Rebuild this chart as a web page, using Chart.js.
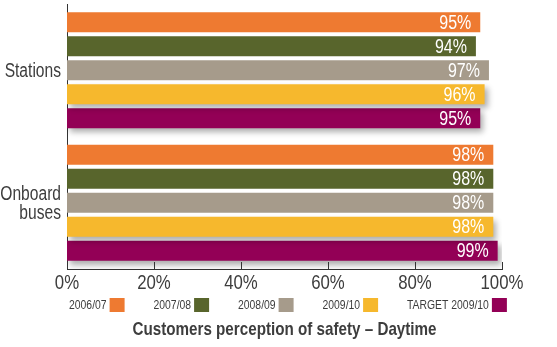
<!DOCTYPE html>
<html>
<head>
<meta charset="utf-8">
<script src="https://cdn.jsdelivr.net/npm/chart.js@4/dist/chart.umd.min.js"></script>
<style>
  html, body { margin: 0; padding: 0; background: #fff; }
  #wrap { width: 557px; height: 347px; position: relative; }
</style>
</head>
<body>
<div id="wrap"><canvas id="myChart" width="557" height="347"></canvas></div>
<script>
const categories = ['Stations', ['Onboard', 'buses']];
const seriesNames = ['2006/07', '2007/08', '2008/09', '2009/10', 'TARGET 2009/10'];
const seriesColors = ['#EE7A31', '#58652C', '#A69B8B', '#F6B82D', '#930056'];
const values_2006_07 = [95, 98];
const values_2007_08 = [94, 98];
const values_2008_09 = [97, 98];
const values_2009_10 = [96, 98];
const values_target = [95, 99];
const tickValues = [0, 20, 40, 60, 80, 100];
const chartTitle = 'Customers perception of safety \u2013 Daytime';

const FONT = "'Liberation Sans', Arial, sans-serif";
const TEXT = '#3d3d3d';
const SQUEEZE = 0.8;   // fake a condensed face

const allValues = [values_2006_07, values_2007_08, values_2008_09, values_2009_10, values_target];
const shadowed = [false, false, false, true, true];

// draw text squeezed horizontally
function narrowText(c, text, x, y, size, align, color, weight) {
    c.save();
    c.font = (weight || 'normal') + ' ' + size + 'px ' + FONT;
    c.fillStyle = color;
    c.textBaseline = 'middle';
    c.textAlign = align;
    c.translate(x, y);
    c.scale(SQUEEZE, 1);
    c.fillText(text, 0, 0);
    c.restore();
}
function narrowWidth(c, text, size, weight) {
    c.save();
    c.font = (weight || 'normal') + ' ' + size + 'px ' + FONT;
    const w = c.measureText(text).width * SQUEEZE;
    c.restore();
    return w;
}

// drop shadow on the last two series only
const shadowPlugin = {
    id: 'shadow',
    beforeDatasetDraw(chart, args) {
        const c = chart.ctx;
        c.save();
        if (shadowed[args.index]) {
            c.shadowColor = 'rgba(0,0,0,0.32)';
            c.shadowBlur = 6;
            c.shadowOffsetX = 3;
            c.shadowOffsetY = 4;
        }
    },
    afterDatasetDraw(chart) {
        chart.ctx.restore();
    }
};

const decorPlugin = {
    id: 'decor',
    afterDatasetsDraw(chart) {
        const c = chart.ctx;
        chart.data.datasets.forEach((ds, i) => {
            chart.getDatasetMeta(i).data.forEach((bar, j) => {
                narrowText(c, ds.data[j] + '%', bar.x - 9, bar.y + 1, 20, 'right', '#ffffff');
            });
        });
    },
    afterDraw(chart) {
        const c = chart.ctx;
        const area = chart.chartArea;
        const xs = chart.scales.x;
        const ys = chart.scales.y;
        // tick marks pointing up + tick labels
        c.save();
        c.strokeStyle = '#333';
        c.lineWidth = 1;
        tickValues.forEach(v => {
            const px = Math.round(xs.getPixelForValue(v)) + 0.5;
            c.beginPath();
            c.moveTo(px, area.bottom);
            c.lineTo(px, area.bottom - 7);
            c.stroke();
        });
        c.restore();
        tickValues.forEach(v => {
            narrowText(c, v + '%', xs.getPixelForValue(v), area.bottom + 14, 21, 'center', TEXT);
        });
        // category labels
        categories.forEach((lab, i) => {
            const lines = Array.isArray(lab) ? lab : [lab];
            const cy = ys.getPixelForValue(i) + 1;
            const lh = 19;
            lines.forEach((ln, k) => {
                const y = cy + (k - (lines.length - 1) / 2) * lh;
                narrowText(c, ln, area.left - 6, y, 19.5, 'right', TEXT);
            });
        });
        // legend: label then swatch
        let x = 69;
        seriesNames.forEach((name, i) => {
            narrowText(c, name, x, 305.5, 13, 'left', TEXT);
            const w = narrowWidth(c, name, 13);
            c.fillStyle = seriesColors[i];
            c.fillRect(x + w + 3, 298, 15, 14);
            x += 84.5;
        });
        // title
        narrowText(c, chartTitle, (area.left + area.right) / 2, 330, 19, 'center', TEXT, 'bold');
    }
};

const ctx = document.getElementById('myChart').getContext('2d');
const myChart = new Chart(ctx, {
    type: 'bar',
    data: {
        labels: categories,
        datasets: seriesNames.map((name, i) => ({
            label: name,
            data: allValues[i],
            backgroundColor: seriesColors[i],
            borderWidth: 0,
            barPercentage: 0.83,
            categoryPercentage: 0.906
        }))
    },
    options: {
        indexAxis: 'y',
        responsive: false,
        animation: false,
        layout: { padding: { top: 4, right: 55, left: 0, bottom: 0 } },
        plugins: {
            legend: { display: false },
            tooltip: { enabled: false },
            title: { display: false }
        },
        scales: {
            x: {
                min: 0,
                max: 100,
                afterFit(scale) { scale.height = 78; },
                grid: { display: false, drawTicks: false },
                border: { display: true, color: '#333', width: 1 },
                ticks: { display: false, stepSize: 20 }
            },
            y: {
                afterFit(scale) { scale.width = 67; },
                grid: { display: false, drawTicks: false },
                border: { display: true, color: '#333', width: 1 },
                ticks: { display: false }
            }
        }
    },
    plugins: [shadowPlugin, decorPlugin]
});
</script>
</body>
</html>
